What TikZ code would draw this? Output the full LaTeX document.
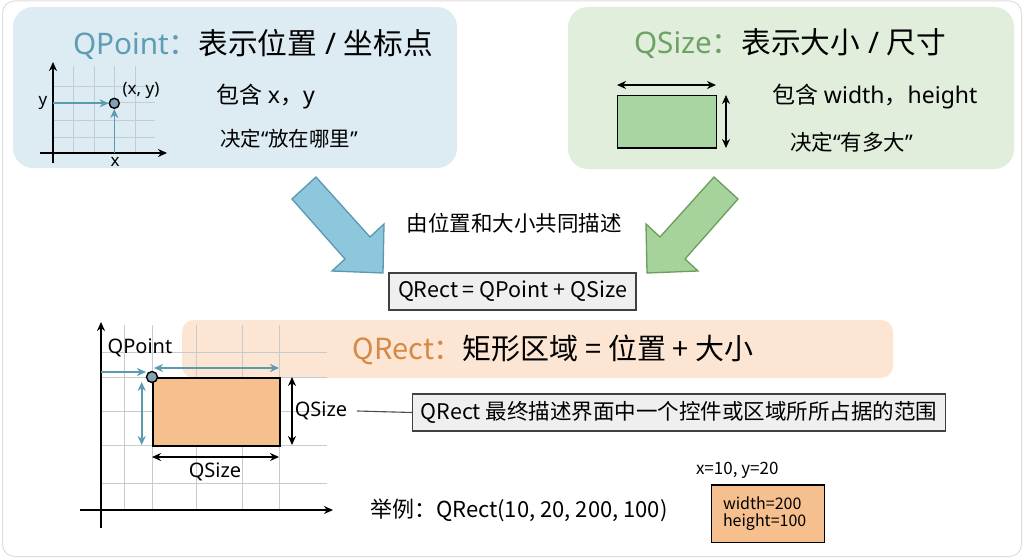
\documentclass[tikz,border=0pt]{standalone}
\usepackage{fontspec}
\setmainfont{Noto Sans}
\newfontfamily\cjk{Noto Sans CJK SC}
\usetikzlibrary{arrows.meta}
\definecolor{bluebox}{RGB}{221,235,242}
\definecolor{greenbox}{RGB}{224,238,219}
\definecolor{orangeband}{RGB}{252,229,210}
\definecolor{tealtxt}{RGB}{94,157,179}
\definecolor{greentxt}{RGB}{108,162,100}
\definecolor{orangetxt}{RGB}{214,137,68}
\definecolor{bluearrowfill}{RGB}{142,198,220}
\definecolor{bluearrowline}{RGB}{88,154,178}
\definecolor{greenarrowfill}{RGB}{166,210,155}
\definecolor{greenarrowline}{RGB}{108,156,94}
\definecolor{sizefill}{RGB}{168,213,162}
\definecolor{rectfill}{RGB}{246,191,142}
\definecolor{gridc}{RGB}{196,204,208}
\definecolor{tealline}{RGB}{91,155,176}
\definecolor{ptfill}{RGB}{128,162,180}
\definecolor{boxgray}{RGB}{239,239,239}
\definecolor{framegray}{RGB}{222,222,222}
\newcommand\fsz[1]{\fontsize{#1}{#1}\selectfont}
\newcommand\zh[1]{{\cjk #1}}
\begin{document}
\begin{tikzpicture}[x=1pt,y=-1pt,
  txt/.style={inner sep=0, outer sep=0},
  panel/.style={rounded corners=20, draw=none},
  gridline/.style={draw=gridc, line width=0.9},
  axis/.style={line width=1.6, -{Stealth[length=9,width=8]}},
  tealarrow/.style={draw=tealline, line width=1.6, -{Stealth[length=9,width=8]}},
  tealdbl/.style={draw=tealline, line width=1.6, {Stealth[length=9,width=8]}-{Stealth[length=9,width=8]}},
  blackdbl/.style={line width=1.6, {Stealth[length=9,width=8]}-{Stealth[length=9,width=8]}},
  labelbox/.style={draw=black!75, line width=1.1, inner sep=0},
  bigarrow/.style={line width=1.3, line join=miter}
]
\useasboundingbox (0,0) rectangle (1024,559);
\fill[white] (0,0) rectangle (1024,559);
\draw[framegray, line width=1, rounded corners=12] (2.5,1) rectangle (1021.5,556.5);

% ---------- top-left panel: QPoint ----------
\fill[bluebox, panel] (13,7) rectangle (457,168);
\node[txt, anchor=west] (qpt) at (73,44) {\fsz{29.7}\textcolor{tealtxt}{QPoint\zh{：}}\zh{表示位置} / \zh{坐标点}};
\foreach \x in {73.3,94,114.3,135} \draw[gridline] (\x,66) -- (\x,153);
\foreach \y in {86.7,102.7,120,137.3} \draw[gridline] (53,\y) -- (155,\y);
\coordinate (ptYtop) at (53,62);
\coordinate (ptYbot) at (53,163);
\coordinate (ptXl) at (40,153);
\coordinate (ptXr) at (167,153);
\draw[axis] (ptYbot) -- (ptYtop);
\draw[axis] (ptXl) -- (ptXr);
\node[circle, draw, line width=1.4, fill=ptfill, minimum size=10, inner sep=0] (pt) at (114.3,103.3) {};
\coordinate (ptyaxis) at (53,103.3);
\coordinate (ptxaxis) at (114.3,153);
\draw[tealarrow] (ptyaxis) -- (pt.west);
\draw[tealarrow] (ptxaxis) -- (pt.south);
\node[txt] (ylab) at (43,103) {\fsz{17}y};
\node[txt] (xlab) at (115,162) {\fsz{17}x};
\node[txt] (xylab) at (141,90) {\fsz{17}(x, y)};
\node[txt, anchor=west] (qptline1) at (216,97) {\fsz{23}\zh{包含} x\zh{，}y};
\node[txt, anchor=west] (qptline2) at (220,139) {\fsz{20.5}\zh{决定}“\zh{放在哪里}”};

% ---------- top-right panel: QSize ----------
\fill[greenbox, panel] (568,7) rectangle (1014,169);
\node[txt, anchor=west] (qsz) at (634,44) {\fsz{29.7}\textcolor{greentxt}{QSize\zh{：}}\zh{表示大小} / \zh{尺寸}};
\node[draw, line width=1.5, fill=sizefill, minimum width=99, minimum height=52.3, inner sep=0, anchor=north west] (szrect) at (616.7,95) {};
\coordinate (szw1) at (617,85);
\coordinate (szw2) at (716,85);
\coordinate (szh1) at (726,95);
\coordinate (szh2) at (726,148);
\draw[blackdbl] (szw1) -- (szw2);
\draw[blackdbl] (szh1) -- (szh2);
\node[txt, anchor=west] (qszline1) at (772,97) {\fsz{23}\zh{包含} width\zh{，}height};
\node[txt, anchor=west] (qszline2) at (790,142) {\fsz{21.5}\zh{决定}“\zh{有多大}”};

% ---------- big arrows ----------
\filldraw[bigarrow, fill=bluearrowfill, draw=bluearrowline]
  (316,177) -- (370,237) -- (384,224) -- (383,273) -- (332,271) -- (345,259) -- (292,199) -- cycle;
\filldraw[bigarrow, fill=greenarrowfill, draw=greenarrowline]
  (714,177) -- (660,237) -- (646,224) -- (647,273) -- (698,271) -- (685,259) -- (738,199) -- cycle;
\node[txt] (desc1) at (514,223) {\fsz{21.5}\zh{由位置和大小共同描述}};
\node[labelbox, fill=boxgray, minimum width=247, minimum height=37] (eq) at (512.5,291.5) {\cjk\fsz{21.5}QRect = QPoint + QSize};

% ---------- orange band ----------
\fill[orangeband, rounded corners=12] (182,320) rectangle (893,378);

% ---------- bottom-left coordinate diagram ----------
\foreach \x in {124,152,196,242,279} \draw[gridline] (\x,325) -- (\x,510);
\foreach \y in {352,377,411,445,483} \draw[gridline] (101,\y) -- (327,\y);
\coordinate (bYbot) at (101,528);
\coordinate (bYtop) at (101,322);
\coordinate (bXl) at (80,510);
\coordinate (bXr) at (333,510);
\draw[axis] (bYbot) -- (bYtop);
\draw[axis] (bXl) -- (bXr);

\node[txt] (bandtitle) at (553,350) {\cjk\fsz{29}\textcolor{orangetxt}{QRect：}矩形区域 = 位置 + 大小};

\node[draw, line width=1.5, fill=rectfill, minimum width=127, minimum height=68, inner sep=0, anchor=north west] (rect) at (152,377) {};
\node[circle, draw, line width=1.4, fill=ptfill, minimum size=11, inner sep=0] (rpt) at (rect.north west) {};
\coordinate (bpy) at (101,372);
\coordinate (bpyend) at (146,372);
\draw[tealarrow] (bpy) -- (bpyend);
\coordinate (tw1) at (154,368);
\coordinate (tw2) at (279,368);
\draw[tealdbl] (tw1) -- (tw2);
\coordinate (th1) at (141.7,382);
\coordinate (th2) at (141.7,445);
\draw[tealdbl] (th1) -- (th2);
\coordinate (bh1) at (292,377);
\coordinate (bh2) at (292,445);
\draw[blackdbl] (bh1) -- (bh2);
\coordinate (bw1) at (152,457);
\coordinate (bw2) at (279,457);
\draw[blackdbl] (bw1) -- (bw2);
\node[txt] (qptlab) at (140,348) {\fsz{20}QPoint};
\node[txt] (qszR) at (321,411) {\fsz{20}QSize};
\node[txt] (qszB) at (215,472) {\fsz{20}QSize};

% ---------- description ----------
\node[labelbox, fill=boxgray, minimum width=533, minimum height=37, anchor=west] (descbox) at (412,412.5) {\cjk\fsz{21.5}QRect 最终描述界面中一个控件或区域所所占据的范围};
\draw[black!70, line width=1.1] ([xshift=10]qszR.east) -- (descbox.west);

% ---------- example ----------
\node[txt, anchor=west] (example) at (370,510) {\cjk\fsz{22}举例：QRect(10, 20, 200, 100)};
\node[txt, anchor=west] (xy) at (696,470) {\cjk\fsz{17}x=10, y=20};
\node[draw, line width=1.5, fill=rectfill, minimum width=113, minimum height=57.7, inner sep=0, anchor=north west] (smallrect) at (710.5,484) {};
\node[txt, anchor=west, align=left] (wh) at ([xshift=12.5]smallrect.west) {\cjk\fsz{16}width=200\\[3pt]\cjk\fsz{16}height=100};
\end{tikzpicture}
\end{document}
